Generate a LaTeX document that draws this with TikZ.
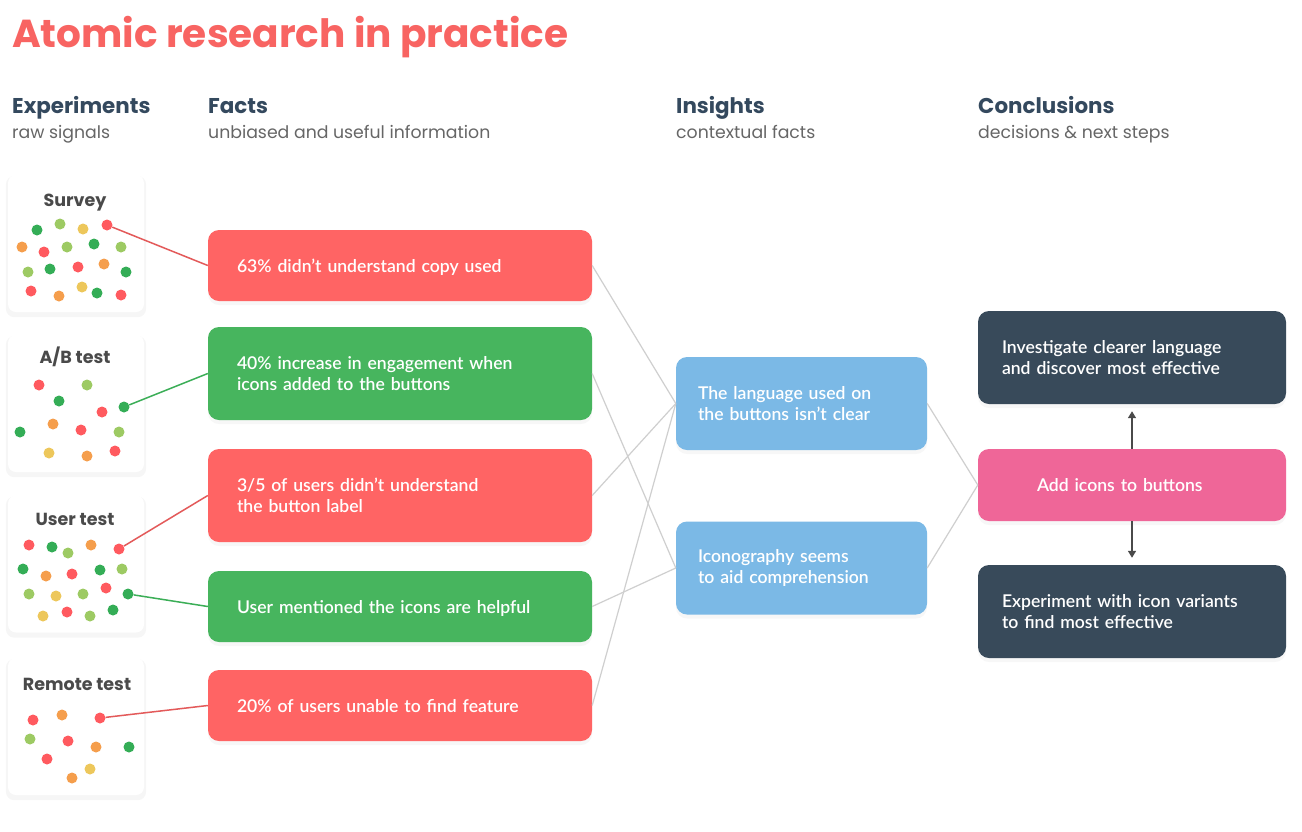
\documentclass[tikz,border=0pt]{standalone}
\usepackage{fontspec}
\setmainfont{Lato}
\IfFontExistsTF{Lato Semibold}{\newfontfamily\boxfont{Lato Semibold}}{\newfontfamily\boxfont[FakeBold=0.6]{Lato}}
\newfontfamily\headfont{Poppins}
\usetikzlibrary{arrows.meta,shadows}

\definecolor{titlered}{HTML}{F86462}
\definecolor{factred}{HTML}{FF6464}
\definecolor{factgreen}{HTML}{47B55E}
\definecolor{insightblue}{HTML}{7BB9E6}
\definecolor{concpink}{HTML}{EF6698}
\definecolor{concdark}{HTML}{384A5A}
\definecolor{headdark}{HTML}{34495E}
\definecolor{subgray}{HTML}{666666}
\definecolor{cardgray}{HTML}{4A4A4A}
\definecolor{dotred}{HTML}{FF5A5F}
\definecolor{dotgreen}{HTML}{34AD56}
\definecolor{dotlime}{HTML}{9DCA63}
\definecolor{dotyellow}{HTML}{EDC75B}
\definecolor{dotorange}{HTML}{F59E4C}
\definecolor{linkgray}{HTML}{CFCFCF}
\definecolor{linkred}{HTML}{E35A5A}
\definecolor{linkgreen}{HTML}{3BAE57}

\tikzset{
  head/.style={anchor=base west, inner sep=0pt, text=headdark, font=\headfont\bfseries\fontsize{21.4}{25}\selectfont},
  sub/.style={anchor=base west, inner sep=0pt, text=subgray, font=\headfont\fontsize{17.3}{20}\selectfont},
  card/.style={fill=white, rounded corners=8pt, minimum width=136pt, minimum height=137pt,
    drop shadow={opacity=0.07, shadow xshift=0pt, shadow yshift=-3pt, shadow scale=1.03}},
  cardtitle/.style={anchor=base, inner sep=0pt, text=cardgray, font=\headfont\bfseries\fontsize{17.5}{20}\selectfont},
  dot/.style={circle, fill=#1, minimum size=11pt, inner sep=0pt},
  boxtext/.style={text=white, align=left, rounded corners=11pt, font=\boxfont\fontsize{17.6}{21}\selectfont,
    drop shadow={opacity=0.06, shadow xshift=0pt, shadow yshift=-4pt}},
  oneline/.style={text depth=0pt},
  fact/.style={boxtext, fill=#1, minimum width=384pt, minimum height=71pt, text width=326pt, inner xsep=29pt},
  insight/.style={boxtext, fill=insightblue, minimum width=251pt, minimum height=93pt, text width=207pt, inner xsep=22pt},
  conc/.style={boxtext, fill=#1, minimum width=308pt, minimum height=93pt, text width=260pt, inner xsep=24pt},
  graylink/.style={draw=linkgray, line width=1.2pt},
}

\begin{document}
\begin{tikzpicture}[x=1pt, y=-1pt]
\useasboundingbox[fill=white] (0,0) rectangle (1302,831);

% title and column heads
\node[anchor=base west, inner sep=0pt, text=titlered, font=\headfont\bfseries\fontsize{39}{42}\selectfont] (title) at (12,47) {Atomic research in practice};
\node[head] (hexp) at (12,113) {Experiments};
\node[sub] (sexp) at (12,138) {raw signals};
\node[head] (hfact) at (208,113) {Facts};
\node[sub] (sfact) at (208,138) {unbiased and useful information};
\node[head] (hins) at (676,113) {Insights};
\node[sub] (sins) at (676,138) {contextual facts};
\node[head] (hconc) at (978,113) {Conclusions};
\node[sub] (sconc) at (978,138) {decisions \& next steps};

% experiment cards
\node[card] (survey) at (76,243.5) {};
\node[card] (abtest) at (76,403.5) {};
\node[card] (usertest) at (76,564) {};
\node[card] (remote) at (76,726.5) {};
\node[cardtitle] (tsurvey) at (75,206) {Survey};
\node[cardtitle] (tabtest) at (75,363) {A/B test};
\node[cardtitle] (tusertest) at (75,525) {User test};
\node[cardtitle] (tremote) at (77,690) {Remote test};

% dots
\foreach \px/\py/\pc [count=\k] in {37/230/dotgreen, 60/224/dotlime, 83/229/dotyellow,
    22/247/dotorange, 44/252/dotred, 67/247/dotlime, 94/244/dotgreen, 121/247/dotlime,
    28/272/dotlime, 50/269/dotgreen, 78/267/dotred, 104/264/dotorange, 126/272/dotgreen,
    31/291/dotred, 59/296/dotorange, 82/287/dotyellow, 97/293/dotgreen, 121/295/dotred}
  \node[dot=\pc] (sv\k) at (\px,\py) {};
\foreach \px/\py/\pc [count=\k] in {39/385/dotred, 87/385/dotlime, 59/401/dotgreen,
    102/412/dotred, 20/432/dotgreen, 53/424/dotorange, 81/430/dotred, 119/432/dotlime,
    49/453/dotyellow, 87/456/dotorange, 115/451/dotred}
  \node[dot=\pc] (ab\k) at (\px,\py) {};
\foreach \px/\py/\pc [count=\k] in {29/545/dotred, 52/547/dotgreen, 68/553/dotlime,
    91/545/dotorange, 23/569/dotgreen, 46/576/dotorange, 72/574/dotred, 100/570/dotgreen,
    122/569/dotlime, 29/594/dotlime, 56/596/dotyellow, 83/594/dotlime, 106/588/dotred,
    43/616/dotyellow, 67/612/dotred, 90/616/dotlime, 113/610/dotgreen}
  \node[dot=\pc] (ut\k) at (\px,\py) {};
\foreach \px/\py/\pc [count=\k] in {33/720/dotred, 62/715/dotorange, 30/739/dotlime,
    68/741/dotred, 96/747/dotorange, 129/747/dotgreen, 47/759/dotred, 90/769/dotyellow,
    72/778/dotorange}
  \node[dot=\pc] (rt\k) at (\px,\py) {};
\node[dot=dotred] (svlink) at (107,225) {};
\node[dot=dotgreen] (ablink) at (124,407) {};
\node[dot=dotred] (utlinka) at (119,549) {};
\node[dot=dotgreen] (utlinkb) at (128,594) {};
\node[dot=dotred] (rtlink) at (100,718) {};

% facts
\node[fact=factred, oneline] (f1) at (400,265.5) {63\% didn’t understand copy used};
\node[fact=factgreen, minimum height=93pt] (f2) at (400,373.5) {40\% increase in engagement when\\icons added to the buttons};
\node[fact=factred, minimum height=93pt] (f3) at (400,495.5) {3/5 of users didn’t understand\\the button label};
\node[fact=factgreen, oneline] (f4) at (400,606.5) {User mentioned the icons are helpful};
\node[fact=factred, oneline] (f5) at (400,705.5) {20\% of users unable to find feature};

% insights
\node[insight] (i1) at (801.5,403.5) {The language used on\\the buttons isn’t clear};
\node[insight] (i2) at (801.5,568) {Iconography seems\\to aid comprehension};

% conclusions
\node[conc=concdark] (c1) at (1132,357.5) {Investigate clearer language\\and discover most effective};
\node[conc=concpink, oneline, minimum height=72pt, text width=190pt, inner xsep=59pt] (c2) at (1132,485) {Add icons to buttons};
\node[conc=concdark] (c3) at (1132,611.5) {Experiment with icon variants\\to find most effective};

% links
\draw[linkred, line width=1.5pt] (svlink) -- (f1.west);
\draw[linkgreen, line width=1.5pt] (ablink) -- (f2.west);
\draw[linkred, line width=1.5pt] (utlinka) -- (f3.west);
\draw[linkgreen, line width=1.5pt] (utlinkb) -- (f4.west);
\draw[linkred, line width=1.5pt] (rtlink) -- (f5.west);

\draw[graylink] (f1.east) -- (i1.west);
\draw[graylink] (f3.east) -- (i1.west);
\draw[graylink] (f5.east) -- (i1.west);
\draw[graylink] (f2.east) -- (i2.west);
\draw[graylink] (f4.east) -- (i2.west);
\draw[graylink] (i1.east) -- (c2.west);
\draw[graylink] (i2.east) -- (c2.west);

\draw[draw=cardgray, line width=1.5pt, -{Triangle[length=7pt,width=8pt]}, shorten >=7pt] (c2.north) -- (c1.south);
\draw[draw=cardgray, line width=1.5pt, -{Triangle[length=7pt,width=8pt]}, shorten >=7pt] (c2.south) -- (c3.north);
\end{tikzpicture}
\end{document}
